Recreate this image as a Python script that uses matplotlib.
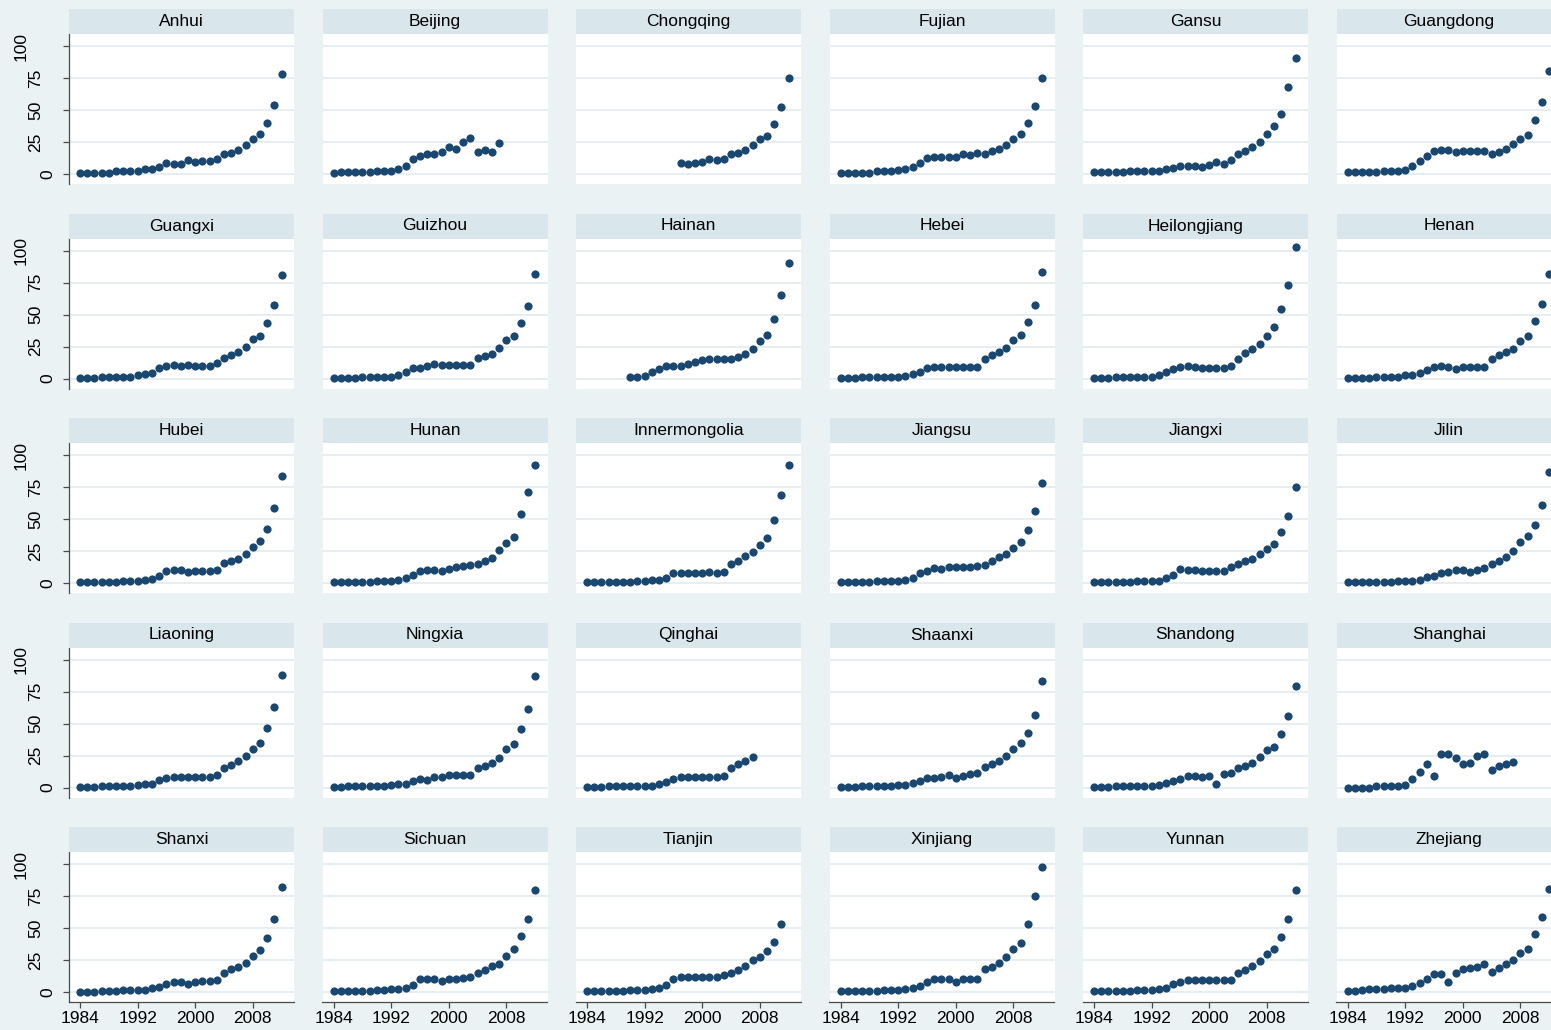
import matplotlib
matplotlib.use("Agg")
import matplotlib.pyplot as plt
from matplotlib.patches import Rectangle
from matplotlib.transforms import blended_transform_factory

plt.rcParams['font.family'] = ['Liberation Sans', 'DejaVu Sans']

# index values per province, one point per year from its first year
anhui = [1, 1, 1, 1, 1, 2, 2, 2, 2, 3.6, 3.6, 5.7, 8.3, 7.8, 7.8, 11, 9, 10.4, 10.4, 11.5,
         15.6, 16.7, 19, 23, 27.6, 31, 40, 54, 78]
beijing = [0.5, 1.3, 1.3, 1.3, 1.3, 1.3, 2, 2, 2, 3.6, 6.5, 11.5, 14, 15.6, 16, 17.4, 21, 19.5,
           25, 28, 17.4, 18.8, 17, 24.5]
chongqing = [8.6, 8, 8.9, 9.4, 11.5, 10.7, 11.5, 15.6, 16.7, 19, 22.7, 27.3, 30, 39.3, 52.3, 75.3]
fujian = [1, 1, 1, 1, 1, 2, 2, 2, 3, 4, 5.2, 8.9, 12.5, 13.3, 13.3, 13.3, 13.3, 15.6, 14.6, 16.4,
          15.4, 17.7, 19.3, 22.7, 27.6, 31, 40, 53, 75.3]
gansu = [1.3, 1.3, 1.3, 1.3, 1.3, 2, 2, 2, 2, 2, 3.9, 5, 6.5, 6.5, 6.5, 5.7, 7, 9.4, 7.8, 11,
         16, 18, 20.8, 25, 31, 37.8, 47, 68.2, 91]
guangdong = [1.5, 1.5, 1.5, 1.5, 1.5, 2.5, 2.5, 2.5, 3.5, 6.6, 10.2, 14.3, 17.9, 19, 19, 16.9,
             17.9, 17.9, 17.9, 17.9, 15.9, 16.9, 19.4, 23.5, 27.7, 30.7, 42, 56.4, 80.5]
guangxi = [0.5, 0.5, 0.5, 0.8, 0.8, 1, 1.2, 1.5, 2.5, 3.5, 4.5, 8.5, 9.5, 10.5, 10, 10.5, 10,
           9.8, 9.8, 12, 16, 18, 20.5, 25, 31, 33, 43.5, 57.5, 81]
guizhou = [0.5, 0.5, 0.5, 0.5, 0.8, 0.8, 1, 1, 1.2, 2.5, 5, 8.5, 8.5, 9.5, 11.5, 10.5, 10.5,
           10.5, 10.5, 10.5, 16, 17.7, 19, 23.5, 30, 33, 43, 56.7, 82]
hainan = [1, 1.5, 2, 5, 7.5, 9.5, 10, 9.5, 11, 13, 14.5, 15, 15, 15, 15, 16.5, 19, 23, 29, 34,
          46.5, 65, 90]
hebei = [0.5, 0.5, 0.5, 0.8, 1, 1, 1.2, 1.5, 1.5, 2, 3.5, 5, 8, 9, 9, 9, 9, 9, 9, 9, 15, 18,
         21, 24, 30, 34, 44.5, 57.5, 83]
heilongjiang = [0.5, 0.5, 0.5, 0.8, 0.8, 1, 1, 1.2, 1.5, 3, 5, 7.5, 9, 9.5, 9, 8.5, 8.5, 8.5,
                8.5, 9.5, 15.5, 20, 23, 27, 33, 40, 54, 73, 103]
henan = [0.5, 0.5, 0.5, 0.5, 1.5, 1.5, 1.5, 1.5, 2.5, 2.5, 4.6, 6.7, 8.7, 9.7, 8.7, 7.7, 8.7,
         9.2, 9.2, 9.2, 15.4, 18, 20.5, 23, 29.3, 33, 44.8, 58.6, 81.8]
hubei = [0.5, 0.5, 0.5, 0.8, 0.8, 1, 1.2, 1.2, 1.5, 2, 3, 5.5, 9, 10, 10, 8.5, 9, 9, 9, 10,
         15.5, 17, 19, 22.5, 28, 33, 42.5, 59, 83.5]
hunan = [0.5, 0.5, 0.5, 0.8, 0.8, 1, 1.2, 1.5, 1.5, 2.5, 4, 6, 9.5, 10, 10, 9.5, 11, 12.5,
         13.5, 14, 15, 17.5, 19.5, 26, 31, 36, 54, 71, 92]
innermongolia = [0.5, 0.5, 0.5, 0.8, 0.8, 1, 1, 1.2, 1.5, 2, 2.5, 4, 7.5, 8, 8, 8, 8, 8.5, 8,
                 8.5, 15, 17.5, 21, 24.5, 30, 35.5, 49, 69, 92]
jiangsu = [0.5, 0.5, 0.5, 0.8, 1, 1.2, 1.2, 1.5, 1.5, 2, 4, 7.5, 9.5, 12, 11, 12.5, 12.5, 12.5,
           12.5, 13, 14, 17, 20, 23, 27.5, 32, 41.5, 56, 78]
jiangxi = [0.5, 0.5, 0.5, 0.8, 0.8, 1, 1.2, 1.5, 1.5, 1.8, 4, 6, 11, 10.5, 10, 9, 9.5, 9.5,
           9.5, 12.5, 15, 17, 19, 23, 26.5, 30.5, 39.5, 52, 75]
jilin = [0.5, 0.5, 0.5, 0.8, 0.8, 1, 1, 1.2, 1.5, 1.8, 2.5, 4.5, 5.5, 8, 8.5, 10, 10, 8.5, 10,
         11.7, 15, 17.5, 20.5, 25, 32, 37, 45, 61, 87]
liaoning = [0.5, 0.5, 0.5, 1, 1, 1.2, 1.5, 1.5, 2, 2.5, 3, 5.5, 7.5, 8, 8.5, 8, 8.5, 8.5, 8.5,
            9.5, 15, 17.5, 21, 25, 30, 35, 46.5, 63, 88]
ningxia = [0.5, 0.5, 0.8, 0.8, 1, 1.2, 1.5, 1.5, 2, 2.5, 3, 5, 7, 5.5, 8, 8, 9.5, 10, 9.5,
           9.5, 15, 17, 19.5, 23, 30, 34, 46, 61, 87]
qinghai = [0.5, 0.5, 0.5, 0.8, 1, 1, 1.2, 1.2, 1.5, 1.5, 2.5, 4, 7, 8, 8, 8, 8, 8.5, 8.5, 9,
           15, 18.5, 21, 23.5]
shaanxi = [0.5, 0.5, 0.5, 0.8, 1, 1, 1.2, 1.5, 1.8, 2, 3.5, 5, 7.5, 7.5, 8.5, 9.5, 7.5, 9,
           10.5, 11, 16, 18, 21, 25, 30, 34.5, 42.5, 57, 83]
shandong = [0.5, 0.5, 0.5, 0.8, 1, 1, 1.2, 1.5, 1.5, 2, 3.5, 5, 6.5, 9, 9, 8.5, 9, 3, 10.5,
            11.5, 15, 17, 19, 23.5, 29, 31.5, 41.5, 56, 79]
shanghai = [0, 0, 0, 0, 0.8, 0.8, 0.8, 0.8, 1.9, 6.9, 12.5, 18.6, 8.8, 26, 26, 23.3, 18.6, 19,
            24.7, 26, 14, 16.7, 18, 20]
shanxi = [0, 0, 0, 0.8, 0.8, 0.8, 1.6, 1.6, 1.6, 1.6, 3.1, 4.2, 6.5, 7.5, 7.5, 6.5, 7.5, 8.3,
          8.3, 9, 15, 18, 19.5, 22.6, 27.8, 33, 42.3, 57.4, 82.3]
sichuan = [0.5, 0.5, 0.5, 0.8, 1, 1, 1.2, 1.5, 2, 2.5, 3.5, 5.5, 10, 10.5, 10.5, 8.5, 10, 10.5,
           11, 12, 14.5, 17.5, 20, 22, 28, 34, 43.5, 57, 80]
tianjin = [0.5, 0.5, 0.5, 0.8, 1, 1, 1.2, 1.2, 1.5, 2, 3.5, 5.5, 10, 11.5, 11.5, 11.5, 11.5,
           11.5, 12, 13, 15, 17.5, 20.5, 25, 27, 32, 39, 53.5]
xinjiang = [0.5, 0.5, 0.5, 0.8, 1, 1, 1.2, 1.5, 1.8, 2.5, 3.5, 5, 8, 10.5, 10.5, 10.5, 8, 10,
            10, 10, 18, 19.5, 23, 27, 34, 38.5, 53, 75, 98]
yunnan = [0.5, 0.5, 0.5, 0.8, 1, 1, 1.2, 1.5, 1.8, 2, 3, 6.5, 7.5, 9, 9.5, 9.5, 9, 9.5, 9.5,
          9.5, 15, 17.5, 20, 24, 30, 34, 43, 57, 79.5]
zhejiang = [0.8, 0.8, 1.3, 2.3, 2.3, 2.3, 3.4, 3.4, 3.4, 4.9, 7, 10, 14, 14, 8, 14.6, 17.7, 19,
            19.5, 21.7, 15.6, 18.5, 22, 24.7, 30.6, 33.4, 45, 59, 80.5]

provinces = ["Anhui", "Beijing", "Chongqing", "Fujian", "Gansu", "Guangdong",
             "Guangxi", "Guizhou", "Hainan", "Hebei", "Heilongjiang", "Henan",
             "Hubei", "Hunan", "Innermongolia", "Jiangsu", "Jiangxi", "Jilin",
             "Liaoning", "Ningxia", "Qinghai", "Shaanxi", "Shandong", "Shanghai",
             "Shanxi", "Sichuan", "Tianjin", "Xinjiang", "Yunnan", "Zhejiang"]
series = [anhui, beijing, chongqing, fujian, gansu, guangdong,
          guangxi, guizhou, hainan, hebei, heilongjiang, henan,
          hubei, hunan, innermongolia, jiangsu, jiangxi, jilin,
          liaoning, ningxia, qinghai, shaanxi, shandong, shanghai,
          shanxi, sichuan, tianjin, xinjiang, yunnan, zhejiang]
first_year = {"Chongqing": 1997, "Hainan": 1990}

x_ticks = [1984, 1992, 2000, 2008]
y_ticks = [0, 25, 50, 75, 100]

BG = "#eaf2f3"
HEAD = "#d9e6eb"
GRID = "#e4edf0"
DOT = "#1a476f"
AXIS = "#4a4a4a"

W, H = 1551, 1030
COL_X, COL_STEP = 69, 253.5
ROW_Y, ROW_STEP = 9, 204.5
HEAD_H = 25
PW, PH = 225, 150
NCOL, NROW = 6, 5

# rotated y labels sit further from the axis the longer they are
label_off = {1: 21.5, 2: 33, 3: 48}

fig = plt.figure(figsize=(W / 100, H / 100), dpi=100, facecolor=BG)

for i, (name, vals) in enumerate(zip(provinces, series)):
    r, c = divmod(i, NCOL)
    left = COL_X + c * COL_STEP
    top = ROW_Y + r * ROW_STEP + HEAD_H
    ax = fig.add_axes([left / W, 1 - (top + PH) / H, PW / W, PH / H])
    ax.set_facecolor("white")

    # strip with the province name
    fig.add_artist(Rectangle((left / W, 1 - top / H), PW / W, HEAD_H / H,
                             transform=fig.transFigure, facecolor=HEAD, edgecolor="none"))
    fig.text((left + PW / 2) / W, 1 - (top - HEAD_H / 2) / H, name,
             ha="center", va="center", fontsize=12.5, color="black")

    start = first_year.get(name, 1984)
    years = list(range(start, start + len(vals)))
    ax.plot(years, vals, "o", ms=5.9, mew=0, color=DOT, zorder=3)

    ax.set_xlim(1982.47, 2013.72)
    ax.set_ylim(-7.8, 109.4)
    ax.set_yticks(y_ticks)
    ax.set_xticks(x_ticks)
    ax.yaxis.grid(True, color=GRID, lw=1.3)
    ax.set_axisbelow(True)

    for s in ax.spines.values():
        s.set_visible(False)

    ax.set_yticklabels([])
    if c == 0:
        ax.spines["left"].set_visible(True)
        ax.spines["left"].set_color(AXIS)
        ax.spines["left"].set_linewidth(0.9)
        ax.tick_params(axis="y", length=4.5, width=0.9, color=AXIS)
        trans = blended_transform_factory(fig.transFigure, ax.transData)
        for v in y_ticks:
            lab = str(v)
            ax.text((left - label_off[len(lab)]) / W, v, lab, transform=trans,
                    rotation=90, ha="center", va="center", fontsize=12.5)
    else:
        ax.tick_params(axis="y", length=0)

    if r == NROW - 1:
        ax.spines["bottom"].set_visible(True)
        ax.spines["bottom"].set_color(AXIS)
        ax.spines["bottom"].set_linewidth(0.9)
        ax.tick_params(axis="x", length=4.5, width=0.9, color=AXIS, labelsize=12.5, pad=2)
        ax.set_xticklabels([str(t) for t in x_ticks])
    else:
        ax.tick_params(axis="x", length=0, labelbottom=False)

fig.savefig("out.png", dpi=100, facecolor=BG)
